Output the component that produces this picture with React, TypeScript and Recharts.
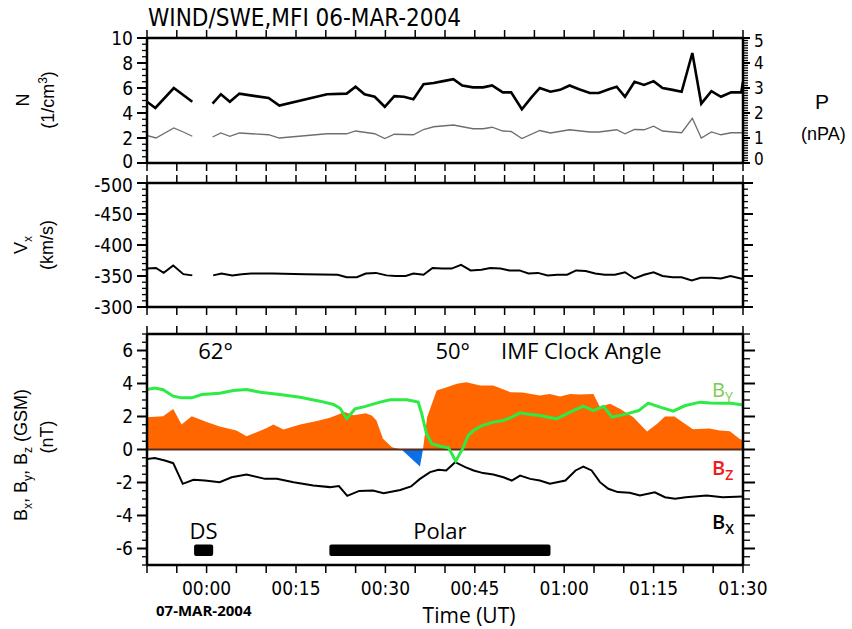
import React from 'react';
import { ComposedChart, Line, Area, XAxis, YAxis, ReferenceLine, ReferenceArea } from 'recharts';

type Pair = [number, number | null];

// time axis: minutes after 00:00 UT on 07-MAR-2004
const timeTicks = [-10, -5, 0, 5, 10, 15, 20, 25, 30, 35, 40, 45, 50, 55, 60, 65, 70, 75, 80, 85, 90];
const timeLabels = [0, 15, 30, 45, 60, 75, 90];

// solar wind density N (1/cm3), null = data gap
const densityN: Pair[] = [
  [-10, 4.9], [-8.6, 4.4], [-5.5, 6.0], [-2.4, 4.9], [-0.6, null], [1.0, 4.75], [2.4, 5.5], [3.9, 4.9],
  [5.5, 5.55], [8.2, 5.35], [10.4, 5.2], [12.2, 4.6], [20.2, 5.5], [23.5, 5.55], [25.0, 6.1], [26.5, 5.5],
  [28.2, 5.3], [29.9, 4.5], [31.5, 5.35], [33.1, 5.3], [34.7, 5.1], [36.4, 6.3], [38.1, 6.4], [39.7, 6.55],
  [41.4, 6.7], [42.9, 6.2], [44.7, 6.05], [46.4, 6.05], [47.9, 6.2], [49.7, 5.65], [51.1, 5.65], [52.9, 4.3],
  [54.5, 5.25], [55.9, 6.0], [57.7, 5.7], [59.3, 5.85], [60.9, 6.2], [62.5, 5.9], [64.3, 5.6], [65.8, 5.6],
  [67.5, 5.9], [68.8, 6.1], [70.2, 5.3], [71.8, 6.5], [73.4, 6.25], [75.0, 6.55], [76.5, 6.0], [78.2, 5.85],
  [79.7, 5.7], [81.5, 8.8], [83.0, 4.75], [84.7, 5.75], [86.3, 5.3], [88.0, 5.65], [89.7, 5.65], [90, 6.5],
];

// dynamic pressure P (nPa)
const pressureP: Pair[] = [
  [-10, 1.1], [-8.5, 1.0], [-5.5, 1.4], [-3.9, 1.24], [-2.4, 1.07], [-0.6, null], [1.0, 1.04], [2.4, 1.2],
  [3.9, 1.07], [5.5, 1.2], [10.4, 1.13], [12.2, 1.0], [20.2, 1.17], [23.5, 1.17], [25.0, 1.28], [28.2, 1.17],
  [29.9, 0.98], [31.5, 1.15], [34.7, 1.13], [36.4, 1.34], [38.1, 1.45], [41.4, 1.52], [44.7, 1.37], [46.4, 1.37],
  [47.9, 1.43], [49.7, 1.28], [51.1, 1.26], [52.9, 0.98], [55.9, 1.3], [57.7, 1.2], [60.9, 1.33], [64.3, 1.24],
  [65.8, 1.24], [68.8, 1.33], [70.2, 1.17], [71.8, 1.34], [73.4, 1.33], [75.0, 1.47], [76.5, 1.28], [79.7, 1.21],
  [81.5, 1.79], [83.0, 1.0], [84.7, 1.24], [86.3, 1.13], [88.0, 1.21], [90, 1.21],
];

// solar wind velocity Vx (km/s)
const velocityVx: Pair[] = [
  [-10, -362], [-8.5, -363], [-7.2, -355], [-5.6, -367], [-3.9, -353], [-2.4, -351], [-0.6, null], [1.1, -351],
  [2.5, -354], [4.3, -351], [5.9, -353], [7.5, -354], [11.1, -354], [16.5, -353], [22.0, -352], [23.5, -348],
  [25.2, -348], [26.7, -354], [28.4, -355], [30.2, -351], [31.7, -350], [33.4, -350], [34.7, -354], [36.4, -352],
  [37.9, -363], [39.5, -362], [41.1, -362], [42.7, -368], [44.3, -359], [46.1, -360], [47.6, -363], [49.3, -362],
  [50.8, -359], [52.5, -359], [54.0, -354], [55.6, -355], [57.2, -351], [58.9, -352], [60.5, -352], [62.0, -359],
  [63.6, -358], [65.2, -354], [66.8, -352], [68.5, -352], [70.2, -356], [71.8, -346], [73.4, -352], [75.0, -356],
  [76.5, -350], [78.2, -348], [79.7, -348], [81.4, -343], [82.9, -347], [84.7, -347], [86.3, -346], [87.9, -350],
  [90, -345],
];

// IMF components (nT, GSM)
const imfBz: Pair[] = [
  [-10, 1.96], [-7.3, 2.02], [-5.6, 2.46], [-4.2, 1.52], [-2.5, 2.02], [0, 1.66], [2.2, 1.39], [5.0, 1.15],
  [6.7, 0.81], [8.4, 1.05], [10.1, 1.31], [11.2, 1.52], [12.9, 1.21], [15.7, 1.52], [18.5, 1.72], [20.7, 1.92],
  [22.4, 2.16], [22.9, 2.3], [24.7, 2.07], [26.7, 2.2], [27.7, 2.06], [28.5, 1.76], [29.6, 0.65], [31.1, 0.14],
  [32.7, 0], [35.8, -1.03], [36.3, 0], [37.0, 1.96], [38.6, 3.58], [40.3, 3.78], [42.0, 3.98], [43.6, 4.08],
  [45.9, 3.88], [48.1, 3.88], [51.0, 3.47], [53.0, 3.46], [55.9, 3.27], [57.6, 3.37], [59.3, 3.21], [61.0, 3.37],
  [62.6, 3.33], [64.9, 3.37], [66.0, 2.57], [67.7, 2.77], [69.4, 2.46], [71.6, 1.96], [73.9, 1.09], [75.6, 1.56],
  [76.9, 2.0], [78.5, 2.0], [79.7, 1.7], [81.6, 1.22], [84.3, 1.28], [86.1, 1.15], [87.8, 1.1], [89.5, 0.62],
  [90, 0.58],
];

const imfBy: Pair[] = [
  [-10, 3.64], [-8.7, 3.72], [-7.3, 3.62], [-5.6, 3.23], [-4.2, 3.13], [-2.5, 3.13], [-0.8, 3.33], [2.2, 3.41],
  [4.5, 3.58], [6.7, 3.64], [9.0, 3.47], [12.3, 3.33], [15.7, 3.17], [19.0, 2.93], [21.3, 2.73], [22.4, 2.5],
  [23.5, 1.86], [24.9, 2.46], [26.5, 2.6], [29.1, 2.87], [30.8, 3.01], [33.6, 3.01], [35.5, 2.87], [36.1, 2.16],
  [36.9, 0.95], [37.8, 0.34], [39.4, 0.18], [40.6, 0.1], [41.8, -0.71], [43.1, 0.14], [43.9, 0.85], [44.8, 1.15],
  [46.2, 1.45], [48.1, 1.66], [49.8, 1.76], [51.2, 1.96], [52.6, 2.22], [54.3, 2.12], [55.9, 2.06], [58.7, 1.86],
  [61.0, 2.26], [63.2, 2.63], [64.9, 2.36], [66.6, 2.61], [68.0, 1.96], [70.5, 2.16], [72.5, 2.36], [74.1, 2.81],
  [76.2, 2.55], [78.3, 2.32], [80.2, 2.65], [82.8, 2.87], [84.5, 2.82], [86.3, 2.8], [88.0, 2.8], [90, 2.7],
];

const imfBx: Pair[] = [
  [-10, -0.57], [-8.7, -0.51], [-7.0, -0.67], [-5.6, -0.83], [-4.0, -2.08], [-2.2, -1.84], [-0.3, -1.88],
  [2.2, -1.98], [4.2, -1.68], [6.7, -1.52], [9.8, -1.78], [11.8, -1.78], [14.6, -1.98], [17.9, -2.18],
  [20.7, -2.28], [22.2, -2.22], [23.6, -2.81], [25.6, -2.51], [27.9, -2.49], [29.7, -2.65], [32.5, -2.45],
  [34.3, -2.24], [35.8, -1.78], [37.5, -1.37], [38.9, -1.23], [40.2, -1.27], [41.7, -0.77], [43.4, -1.07],
  [44.8, -1.27], [46.4, -1.43], [48.1, -1.52], [49.8, -1.68], [51.2, -1.88], [52.6, -1.58], [54.3, -1.78],
  [55.9, -1.88], [57.6, -2.08], [60.2, -1.88], [61.9, -1.27], [63.2, -1.03], [64.6, -1.27], [66.0, -1.98],
  [67.4, -2.38], [69.0, -2.58], [71.0, -2.62], [72.7, -2.79], [75.2, -2.59], [76.9, -2.89], [78.6, -2.99],
  [80.4, -2.89], [83.9, -2.79], [86.6, -2.89], [90, -2.85],
];

// spacecraft coverage intervals
const intervals = [
  { name: 'DS', start: -2.1, end: 1.1 },
  { name: 'Polar', start: 20.6, end: 57.7 },
];

const clockAngles = [
  { text: '62°', t: 1.5 },
  { text: '50°', t: 41.3 },
];

const NARROW = "'Liberation Sans Narrow', 'DejaVu Sans Condensed', 'Liberation Sans', sans-serif";
const PLAIN = "'Liberation Sans', Arial, sans-serif";
const HUMAN = "'Open Sans', 'Noto Sans', sans-serif";

const toRows = (pairs: Pair[]) => pairs.map(([t, v]) => ({ t, v }));

const steps = (from: number, to: number, step: number) => {
  const out: number[] = [];
  for (let v = from; v <= to + 1e-9; v += step) out.push(Math.round(v * 1000) / 1000);
  return out;
};

const fmtTime = (t: number) => {
  const h = Math.floor(t / 60);
  const m = t - h * 60;
  return `${String(h).padStart(2, '0')}:${String(m).padStart(2, '0')}`;
};

// plot area in page pixels
const LEFT = 147;
const RIGHT = 743;
const X_PER_MIN = (RIGHT - LEFT) / 100;
const xOf = (t: number) => LEFT + (t + 10) * X_PER_MIN;

const timeTick = (down: boolean, labelled: boolean) => (props: any) => {
  const { x, y, payload } = props;
  const t = payload.value as number;
  return (
    <g>
      <line x1={x} y1={y} x2={x} y2={down ? y + 8 : y - 8} stroke="#000" strokeWidth={1.5} />
      {labelled && timeLabels.includes(t) && (
        <text x={x} y={y + 23} dy="0.35em" textAnchor="middle" fontSize={19} fontFamily={NARROW} fill="#000">
          {fmtTime(t)}
        </text>
      )}
    </g>
  );
};

const valueTick = (
  side: 'left' | 'right',
  majors: number[],
  majorLen: number,
  minorLen: number,
  fontSize: number,
  nudge: (v: number) => number = () => 0
) => (props: any) => {
  const { x, y, payload } = props;
  const v = payload.value as number;
  const isMajor = majors.some((m) => Math.abs(m - v) < 1e-6);
  const dir = side === 'left' ? -1 : 1;
  const len = isMajor ? majorLen : minorLen;
  return (
    <g>
      <line x1={x} y1={y} x2={x + dir * len} y2={y} stroke="#000" strokeWidth={isMajor ? 2 : 1.3} />
      {fontSize > 0 && isMajor && (
        <text
          x={x + dir * (majorLen + 4)}
          y={y + nudge(v)}
          dy="0.36em"
          textAnchor={side === 'left' ? 'end' : 'start'}
          fontSize={fontSize}
          fontFamily={NARROW}
          fill="#000"
        >
          {v}
        </text>
      )}
    </g>
  );
};

const axisLine = { stroke: '#000', strokeWidth: 2.5 };
const MARGIN_L = LEFT - 40;
const MARGIN_R = 852 - RIGHT - 40;

const bzValues = imfBz.map((p) => p[1] as number);
const bzMax = Math.max(...bzValues);
const bzMin = Math.min(...bzValues);
const bzSplit = bzMax / (bzMax - bzMin);

const nTicks = steps(0, 10, 0.5);
const pTicks = steps(0, 5, 0.1);
const vTicks = steps(-500, -300, 10);
const bTicks = steps(-7, 7, 0.5);

export default function App() {
  const xAxes = (bottomHeight: number, labelled: boolean) => [
    <XAxis
      key="b"
      xAxisId="b"
      type="number"
      dataKey="t"
      domain={[-10, 90]}
      allowDataOverflow
      ticks={timeTicks}
      interval={0}
      height={bottomHeight}
      tickSize={0}
      tickMargin={0}
      axisLine={axisLine}
      tickLine={false}
      tick={timeTick(true, labelled)}
    />,
    <XAxis
      key="t"
      xAxisId="t"
      orientation="top"
      type="number"
      dataKey="t"
      domain={[-10, 90]}
      allowDataOverflow
      ticks={timeTicks}
      interval={0}
      height={10}
      tickSize={0}
      tickMargin={0}
      axisLine={axisLine}
      tickLine={false}
      tick={timeTick(false, false)}
    />,
  ];

  const textBase: React.CSSProperties = { position: 'absolute', whiteSpace: 'nowrap', color: '#000', lineHeight: 1 };
  const rotated = (cx: number, cy: number): React.CSSProperties => ({
    ...textBase,
    left: cx,
    top: cy,
    transform: 'translate(-50%, -50%) rotate(-90deg)',
    fontFamily: PLAIN,
    fontSize: 18,
  });

  return (
    <div style={{ position: 'absolute', left: 0, top: 0, width: 852, height: 629, background: '#fff', overflow: 'hidden' }}>
      {/* panel 1: density and pressure */}
      <div style={{ position: 'absolute', left: 0, top: 0 }}>
        <ComposedChart width={852} height={182} margin={{ top: 28, right: MARGIN_R, bottom: 9, left: MARGIN_L }}>
          {xAxes(10, false)}
          <YAxis
            yAxisId="l"
            type="number"
            domain={[0, 10]}
            allowDataOverflow
            ticks={nTicks}
            interval={0}
            width={40}
            tickSize={0}
            tickMargin={0}
            axisLine={axisLine}
            tickLine={false}
            tick={valueTick('left', [0, 2, 4, 6, 8, 10], 10, 5, 19, (v) => (v === 0 ? -2 : 0))}
          />
          <YAxis
            yAxisId="p"
            orientation="right"
            type="number"
            domain={[0, 5]}
            allowDataOverflow
            ticks={pTicks}
            interval={0}
            width={40}
            tickSize={0}
            tickMargin={0}
            axisLine={axisLine}
            tickLine={false}
            tick={valueTick('right', [0, 1, 2, 3, 4, 5], 7, 5, 17, (v) => (v === 0 ? -4 : v === 5 ? 3 : 0))}
          />
          <Line
            data={toRows(pressureP)}
            dataKey="v"
            xAxisId="b"
            yAxisId="p"
            type="linear"
            stroke="#6e6e6e"
            strokeWidth={1.3}
            dot={false}
            isAnimationActive={false}
          />
          <Line
            data={toRows(densityN)}
            dataKey="v"
            xAxisId="b"
            yAxisId="l"
            type="linear"
            stroke="#000"
            strokeWidth={2.6}
            dot={false}
            isAnimationActive={false}
          />
        </ComposedChart>
      </div>

      {/* panel 2: Vx */}
      <div style={{ position: 'absolute', left: 0, top: 163 }}>
        <ComposedChart width={852} height={164} margin={{ top: 10, right: MARGIN_R, bottom: 10, left: MARGIN_L }}>
          {xAxes(10, false)}
          <YAxis
            yAxisId="l"
            type="number"
            domain={[-500, -300]}
            reversed
            allowDataOverflow
            ticks={vTicks}
            interval={0}
            width={40}
            tickSize={0}
            tickMargin={0}
            axisLine={axisLine}
            tickLine={false}
            tick={valueTick('left', [-500, -450, -400, -350, -300], 10, 5, 19, (v) => (v === -500 ? 2 : 0))}
          />
          <YAxis
            yAxisId="r"
            orientation="right"
            type="number"
            domain={[-500, -300]}
            reversed
            allowDataOverflow
            ticks={vTicks}
            interval={0}
            width={40}
            tickSize={0}
            tickMargin={0}
            axisLine={axisLine}
            tickLine={false}
            tick={valueTick('right', [-500, -450, -400, -350, -300], 10, 5, 0)}
          />
          <Line
            data={toRows(velocityVx)}
            dataKey="v"
            xAxisId="b"
            yAxisId="l"
            type="linear"
            stroke="#000"
            strokeWidth={2}
            dot={false}
            isAnimationActive={false}
          />
        </ComposedChart>
      </div>

      {/* panel 3: IMF */}
      <div style={{ position: 'absolute', left: 0, top: 317 }}>
        <ComposedChart width={852} height={288} margin={{ top: 7, right: MARGIN_R, bottom: 0, left: MARGIN_L }}>
          <defs>
            <linearGradient id="bzFill" x1="0" y1="0" x2="0" y2="1">
              <stop offset={bzSplit} stopColor="#FF6600" />
              <stop offset={bzSplit} stopColor="#0B6FE6" />
            </linearGradient>
          </defs>
          {xAxes(40, true)}
          <YAxis
            yAxisId="l"
            type="number"
            domain={[-7, 7]}
            allowDataOverflow
            ticks={bTicks}
            interval={0}
            width={40}
            tickSize={0}
            tickMargin={0}
            axisLine={axisLine}
            tickLine={false}
            tick={valueTick('left', [-6, -4, -2, 0, 2, 4, 6], 10, 5, 19)}
          />
          <YAxis
            yAxisId="r"
            orientation="right"
            type="number"
            domain={[-7, 7]}
            allowDataOverflow
            ticks={bTicks}
            interval={0}
            width={40}
            tickSize={0}
            tickMargin={0}
            axisLine={axisLine}
            tickLine={false}
            tick={valueTick('right', [-6, -4, -2, 0, 2, 4, 6], 12, 7, 0)}
          />
          <Area
            data={toRows(imfBz)}
            dataKey="v"
            xAxisId="b"
            yAxisId="l"
            type="linear"
            baseValue={0}
            stroke="none"
            fill="url(#bzFill)"
            fillOpacity={1}
            isAnimationActive={false}
          />
          <ReferenceLine y={0} xAxisId="b" yAxisId="l" stroke="#5a2d1a" strokeWidth={2} />
          {intervals.map((iv) => (
            <ReferenceArea
              key={iv.name}
              xAxisId="b"
              yAxisId="l"
              x1={iv.start}
              x2={iv.end}
              y1={-6.45}
              y2={-5.75}
              fill="#000"
              fillOpacity={1}
              stroke="none"
              shape={(p: any) => <rect x={p.x} y={p.y} width={p.width} height={p.height} rx={2} fill="#000" />}
              label={{ value: iv.name, position: 'top', offset: 5, fontSize: 22, fontFamily: HUMAN, fill: '#000' }}
            />
          ))}
          <Line
            data={toRows(imfBx)}
            dataKey="v"
            xAxisId="b"
            yAxisId="l"
            type="linear"
            stroke="#000"
            strokeWidth={2}
            dot={false}
            isAnimationActive={false}
          />
          <Line
            data={toRows(imfBy)}
            dataKey="v"
            xAxisId="b"
            yAxisId="l"
            type="linear"
            stroke="#2EEA45"
            strokeWidth={3}
            dot={false}
            isAnimationActive={false}
          />
        </ComposedChart>
      </div>

      {/* titles and annotations */}
      <div style={{ ...textBase, left: 148, top: 6, fontFamily: NARROW, fontSize: 24 }}>WIND/SWE,MFI 06-MAR-2004</div>

      <div style={rotated(23, 100)}>N</div>
      <div style={rotated(47, 100)}>
        (1/cm<sup style={{ fontSize: 12 }}>3</sup>)
      </div>
      <div style={{ ...textBase, left: 815, top: 91, fontFamily: PLAIN, fontSize: 21 }}>P</div>
      <div style={{ ...textBase, left: 801, top: 125, fontFamily: PLAIN, fontSize: 18 }}>(nPA)</div>

      <div style={rotated(23, 245)}>
        V<sub style={{ fontSize: 12 }}>x</sub>
      </div>
      <div style={rotated(47, 245)}>(km/s)</div>

      <div style={rotated(23, 455)}>
        B<sub style={{ fontSize: 12 }}>x</sub>, B<sub style={{ fontSize: 12 }}>y</sub>, B<sub style={{ fontSize: 12 }}>z</sub> (GSM)
      </div>
      <div style={rotated(47, 437)}>(nT)</div>

      {clockAngles.map((c) => (
        <div key={c.text} style={{ ...textBase, left: xOf(c.t), top: 339, transform: 'translateX(-50%)', fontFamily: HUMAN, fontSize: 22 }}>
          {c.text}
        </div>
      ))}
      <div style={{ ...textBase, left: 501, top: 339, fontFamily: HUMAN, fontSize: 22 }}>IMF Clock Angle</div>

      <div style={{ ...textBase, left: 712, top: 380, fontFamily: HUMAN, fontSize: 20, color: '#7ACB4B' }}>
        B<span style={{ fontSize: 14, position: 'relative', top: 5 }}>Y</span>
      </div>
      <div style={{ ...textBase, left: 712, top: 458, fontFamily: HUMAN, fontSize: 20, fontWeight: 600, color: '#EE1C1C' }}>
        B<span style={{ fontSize: 14, position: 'relative', top: 5 }}>Z</span>
      </div>
      <div style={{ ...textBase, left: 712, top: 512, fontFamily: HUMAN, fontSize: 20, fontWeight: 600, color: '#000' }}>
        B<span style={{ fontSize: 14, position: 'relative', top: 5 }}>X</span>
      </div>

      <div style={{ ...textBase, left: 156, top: 603, fontFamily: HUMAN, fontSize: 15, fontWeight: 700 }}>07-MAR-2004</div>
      <div style={{ ...textBase, left: 469, top: 605, transform: 'translateX(-50%)', fontFamily: HUMAN, fontSize: 21 }}>
        Time (UT)
      </div>
    </div>
  );
}
